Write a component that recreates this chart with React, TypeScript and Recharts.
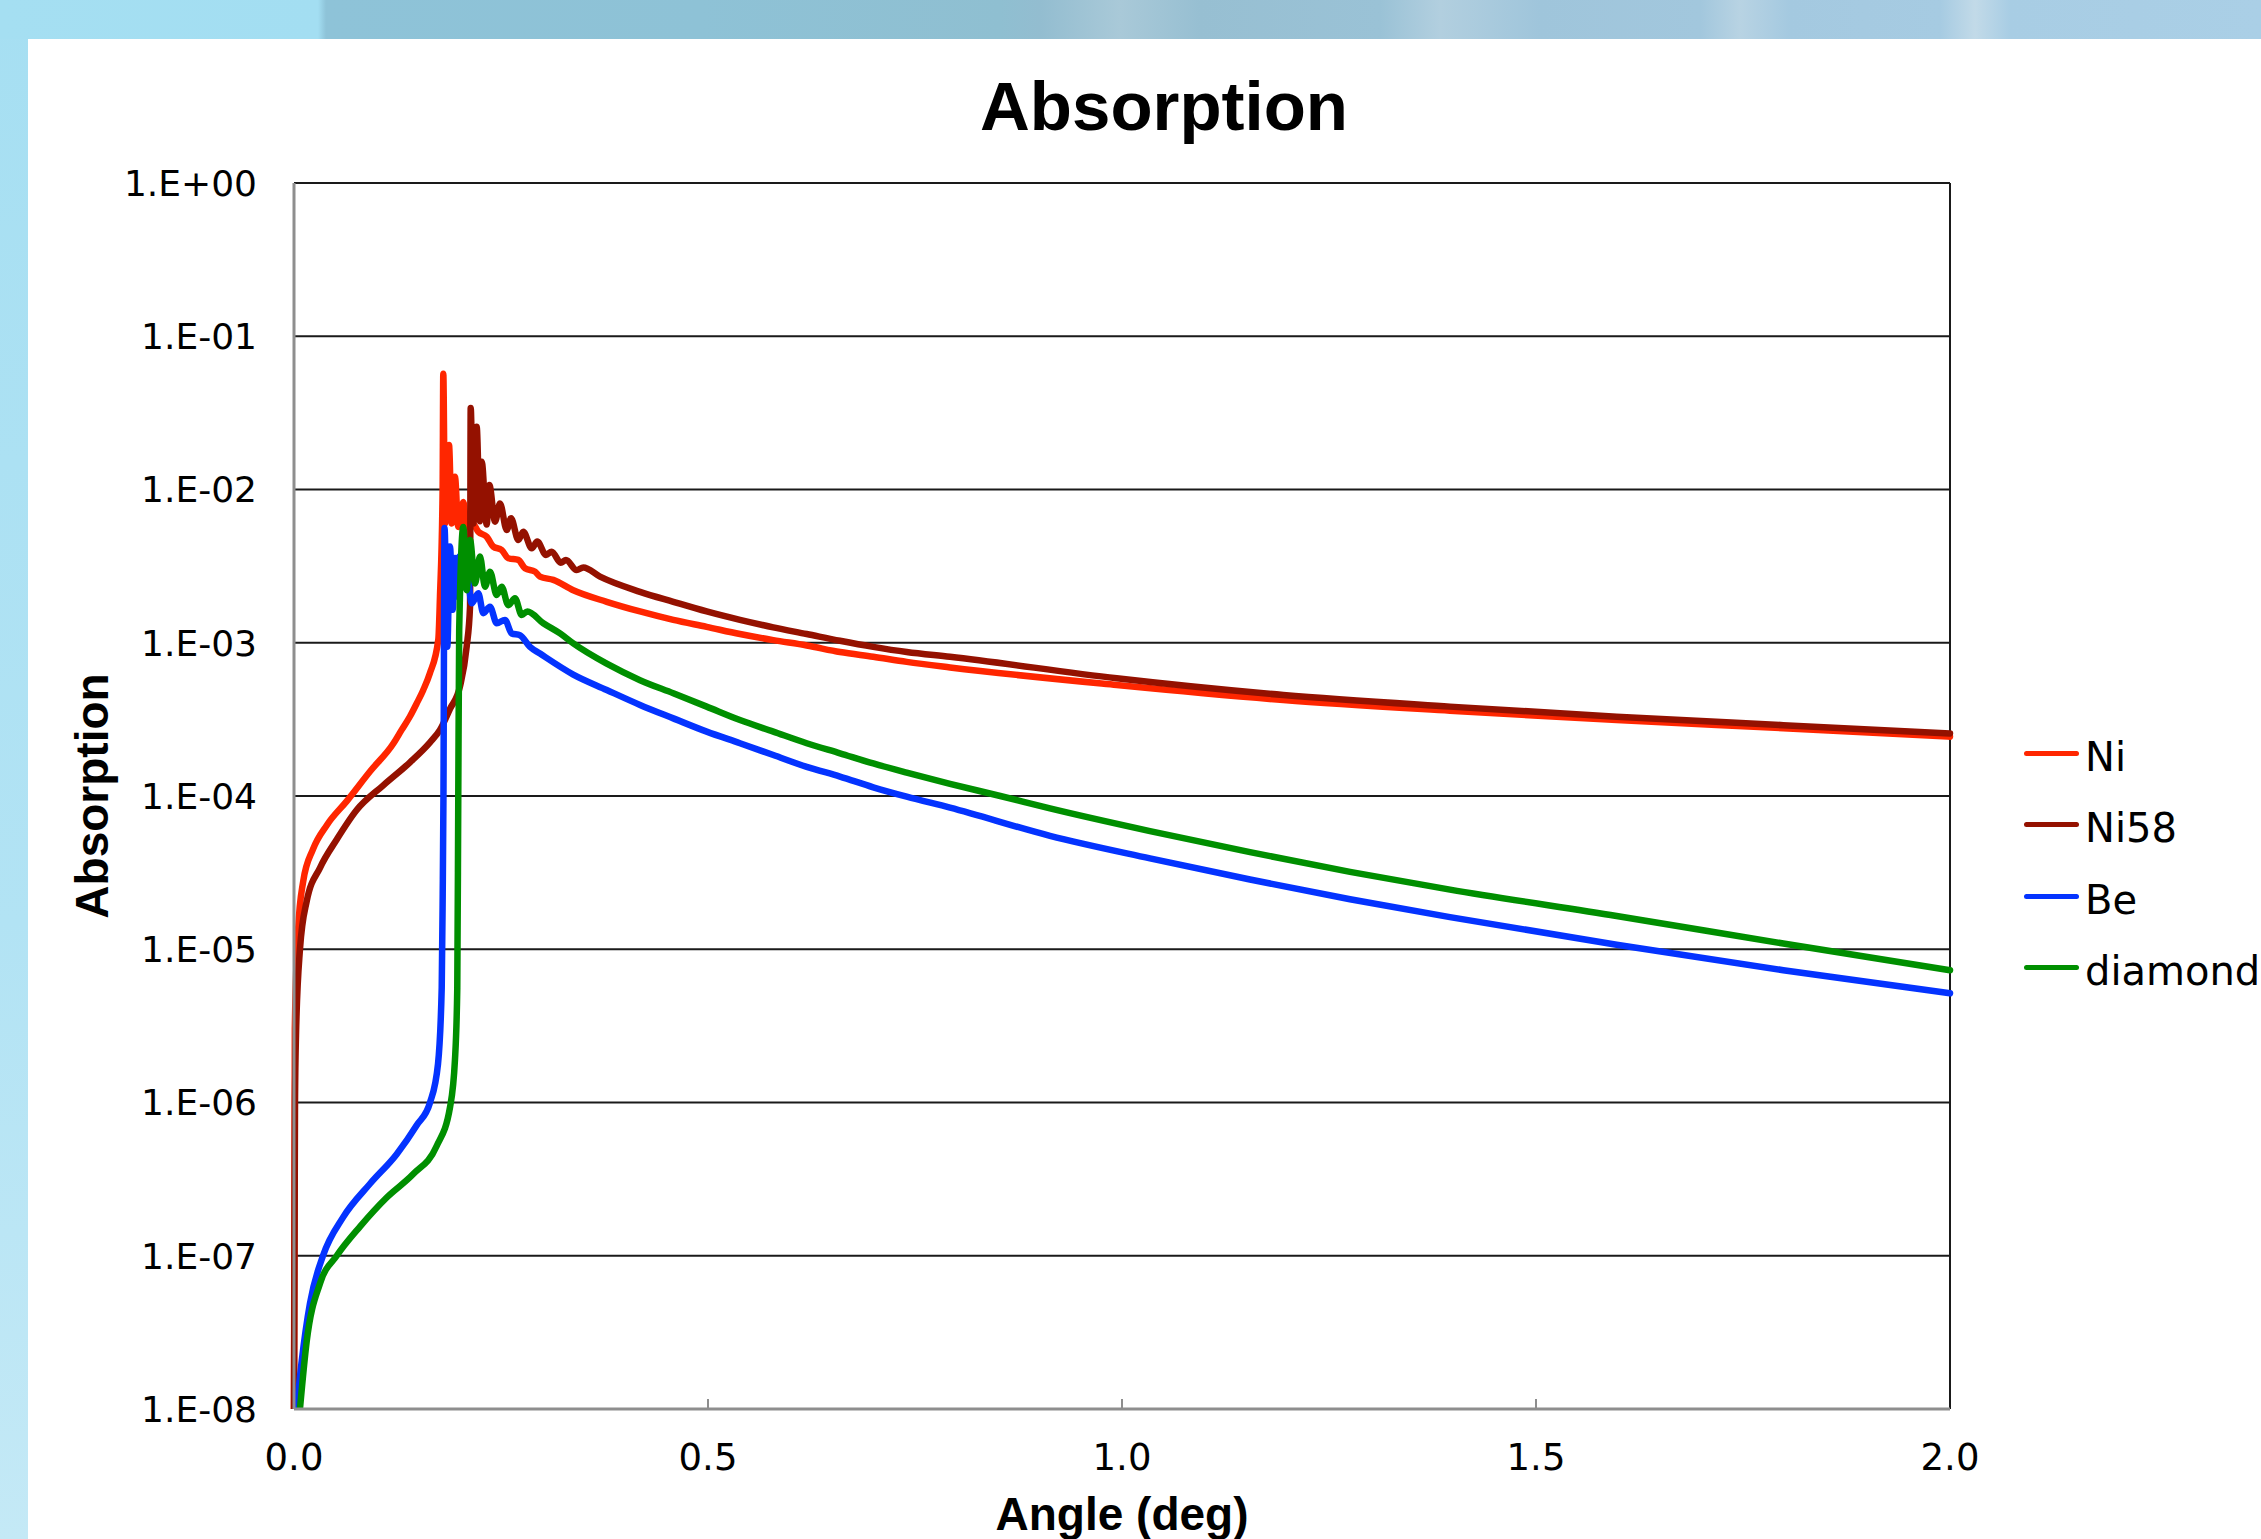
import React from 'react';
import { LineChart, Line, XAxis, YAxis, CartesianGrid, Legend, ReferenceLine } from 'recharts';

// [angle (deg), absorption]
const ni: [number, number][] = [
  [0, 1e-8], [0.001, 3e-6], [0.005, 1.35e-5], [0.011, 2.75e-5], [0.023, 4.5e-5],
  [0.04, 6.5e-5], [0.064, 9.3e-5], [0.092, 1.45e-4], [0.12, 2.2e-4], [0.13, 2.7e-4],
  [0.14, 3.3e-4], [0.148, 4.0e-4], [0.156, 4.9e-4], [0.164, 6.3e-4], [0.1743, 1.05e-3],
  [0.1763, 2.0e-3], [0.1795, 1.0e-2], [0.1803, 5.7e-2], [0.1824, 6.0e-3], [0.1872, 1.95e-2],
  [0.1905, 6.0e-3], [0.1944, 1.21e-2], [0.1984, 5.7e-3], [0.2045, 8.3e-3], [0.2085, 5.7e-3],
  [0.215, 6.1e-3], [0.2226, 5.3e-3], [0.2327, 4.92e-3], [0.2407, 4.24e-3], [0.2508, 4.03e-3],
  [0.2588, 3.56e-3], [0.2709, 3.47e-3], [0.279, 3.06e-3], [0.2911, 2.91e-3], [0.2971, 2.7e-3],
  [0.3132, 2.57e-3], [0.3373, 2.2e-3], [0.3777, 1.85e-3], [0.4179, 1.6e-3], [0.4581, 1.41e-3],
  [0.4984, 1.27e-3], [0.5386, 1.14e-3], [0.5789, 1.04e-3], [0.6192, 9.6e-4], [0.6594, 8.7e-4],
  [0.6996, 8.1e-4], [0.74, 7.5e-4], [0.7923, 6.9e-4], [0.9936, 5.3e-4], [1.1948, 4.23e-4],
  [1.3961, 3.6e-4], [1.5974, 3.13e-4], [1.7987, 2.77e-4], [2.0, 2.44e-4],
];

const ni58: [number, number][] = [
  [0, 1e-8], [0.0012, 1e-6], [0.0024, 2.75e-6], [0.0072, 1.0e-5], [0.0153, 2.05e-5],
  [0.0314, 3.4e-5], [0.0516, 5.2e-5], [0.0757, 8.1e-5], [0.1075, 1.17e-4], [0.1401, 1.66e-4],
  [0.1643, 2.24e-4], [0.1763, 2.7e-4], [0.1884, 3.7e-4], [0.2005, 5.2e-4], [0.2085, 9.4e-4],
  [0.2126, 1.72e-3], [0.2134, 3.4e-2], [0.2166, 6.0e-3], [0.2206, 2.57e-2], [0.2246, 6.2e-3],
  [0.2267, 1.52e-2], [0.2327, 5.9e-3], [0.2359, 1.07e-2], [0.2428, 6.17e-3], [0.2488, 8.1e-3],
  [0.2569, 5.44e-3], [0.2621, 6.5e-3], [0.2709, 4.68e-3], [0.2769, 5.3e-3], [0.2871, 4.13e-3],
  [0.2938, 4.57e-3], [0.3043, 3.74e-3], [0.3112, 3.93e-3], [0.3221, 3.33e-3], [0.3285, 3.47e-3],
  [0.3414, 2.98e-3], [0.3494, 3.1e-3], [0.3696, 2.7e-3], [0.4179, 2.15e-3], [0.4581, 1.85e-3],
  [0.4984, 1.6e-3], [0.5386, 1.41e-3], [0.5789, 1.26e-3], [0.6192, 1.14e-3], [0.6594, 1.03e-3],
  [0.6996, 9.4e-4], [0.74, 8.7e-4], [0.7923, 8.1e-4], [0.9936, 5.86e-4], [1.1948, 4.56e-4],
  [1.3961, 3.83e-4], [1.5974, 3.29e-4], [1.7987, 2.9e-4], [2.0, 2.56e-4],
];

const be: [number, number][] = [
  [0.0033, 1e-8], [0.0093, 2.05e-8], [0.0193, 4.9e-8], [0.035, 1e-7], [0.0592, 1.78e-7],
  [0.0918, 2.95e-7], [0.124, 4.6e-7], [0.1482, 7.1e-7], [0.1643, 1e-6], [0.1739, 1.78e-6],
  [0.1784, 5.6e-6], [0.1796, 2.3e-5], [0.1805, 1e-4], [0.1818, 5.6e-3], [0.1851, 9.4e-4],
  [0.1884, 4.24e-3], [0.1917, 1.64e-3], [0.1944, 3.57e-3], [0.1965, 2.0e-3], [0.1996, 3.65e-3],
  [0.2045, 2.44e-3], [0.2085, 2.98e-3], [0.2146, 1.81e-3], [0.2226, 2.1e-3], [0.2286, 1.56e-3],
  [0.2367, 1.72e-3], [0.2448, 1.34e-3], [0.2548, 1.41e-3], [0.2629, 1.15e-3], [0.2729, 1.12e-3],
  [0.285, 9.4e-4], [0.2971, 8.5e-4], [0.3373, 6.2e-4], [0.3777, 4.92e-4], [0.4179, 3.93e-4],
  [0.4581, 3.21e-4], [0.4984, 2.63e-4], [0.5386, 2.21e-4], [0.5789, 1.85e-4], [0.6192, 1.55e-4],
  [0.6594, 1.34e-4], [0.6996, 1.14e-4], [0.74, 9.9e-5], [0.7923, 8.4e-5], [0.913, 5.5e-5],
  [1.0338, 3.92e-5], [1.1546, 2.85e-5], [1.2754, 2.12e-5], [1.3961, 1.62e-5], [1.5974, 1.07e-5],
  [1.7987, 7.3e-6], [2.0, 5.16e-6],
];

const diamond: [number, number][] = [
  [0.0072, 1e-8], [0.0153, 2.75e-8], [0.0314, 6.6e-8], [0.0516, 1e-7], [0.0797, 1.55e-7],
  [0.112, 2.4e-7], [0.1437, 3.4e-7], [0.1723, 5.2e-7], [0.1884, 9.3e-7], [0.1944, 1.9e-6],
  [0.1972, 5.6e-6], [0.1984, 1e-4], [0.1995, 1.2e-3], [0.2045, 5.7e-3], [0.2085, 2.2e-3],
  [0.2126, 4.68e-3], [0.2186, 2.44e-3], [0.2246, 3.65e-3], [0.2307, 2.32e-3], [0.2367, 2.91e-3],
  [0.2448, 2.05e-3], [0.2508, 2.32e-3], [0.2588, 1.76e-3], [0.2669, 1.95e-3], [0.275, 1.52e-3],
  [0.2818, 1.6e-3], [0.3011, 1.34e-3], [0.3213, 1.15e-3], [0.3373, 9.9e-4], [0.3777, 7.3e-4],
  [0.4179, 5.7e-4], [0.4581, 4.68e-4], [0.4984, 3.83e-4], [0.5386, 3.13e-4], [0.5789, 2.63e-4],
  [0.6192, 2.21e-4], [0.6594, 1.9e-4], [0.6996, 1.63e-4], [0.74, 1.42e-4], [0.7923, 1.2e-4],
  [0.853, 1.0e-4], [0.913, 8.3e-5], [1.0338, 5.9e-5], [1.1546, 4.3e-5], [1.2754, 3.2e-5],
  [1.3961, 2.45e-5], [1.5974, 1.65e-5], [1.7987, 1.09e-5], [2.0, 7.3e-6],
];

const seriesNames = ['Ni', 'Ni58', 'Be', 'diamond'];
const seriesColors = ['#ff2600', '#941100', '#0433ff', '#008f00'];
const seriesPoints = [ni, ni58, be, diamond];

const xTicks = [0, 0.5, 1, 1.5, 2];
const yTicks = [1e-8, 1e-7, 1e-6, 1e-5, 1e-4, 1e-3, 1e-2, 1e-1, 1];

const W = 2261;
const H = 1539;

const toRows = (pts: [number, number][]) => pts.map(([x, y]) => ({ x, y }));

function fmtExp(v: number) {
  const e = Math.round(Math.log10(v));
  return `1.E${e < 0 ? '-' : '+'}${String(Math.abs(e)).padStart(2, '0')}`;
}

// bottom axis tick: label below, short tick mark pointing up into the plot
const XTick = (props: any) => {
  const { x, y, payload } = props;
  const v = payload.value as number;
  const axisY = y - 35;
  return (
    <g>
      {v > 0 && v < 2 && (
        <line x1={x} x2={x} y1={axisY} y2={axisY - 10} stroke="#8e8e8e" strokeWidth={2} />
      )}
      <text x={x} y={y} dy="0.71em" textAnchor="middle" fontFamily="DejaVu Sans" fontSize={37} fill="#000">
        {v.toFixed(1)}
      </text>
    </g>
  );
};

// keep the series order (recharts sorts legend items by name)
const LegendBox = () => (
  <div style={{ fontFamily: 'DejaVu Sans', fontSize: 40, color: '#000' }}>
    {seriesNames.map((name, i) => (
      <div key={name} style={{ display: 'flex', alignItems: 'center', height: 71.3, whiteSpace: 'nowrap' }}>
        <div
          style={{
            width: 55,
            height: 5,
            borderRadius: 3,
            background: seriesColors[i],
            transform: 'translateY(-4px)',
            marginRight: 6,
            flex: 'none',
          }}
        />
        <span style={{ lineHeight: '71.3px' }}>{name}</span>
      </div>
    ))}
  </div>
);

export default function App() {
  return (
    <div
      style={{
        position: 'absolute',
        left: 0,
        top: 0,
        width: W,
        height: H,
        overflow: 'hidden',
        background: 'linear-gradient(180deg, #a6dff2 0%, #b2e3f4 60%, #c4e9f6 100%)',
      }}
    >
      {/* header strip of the slide behind the chart */}
      <div
        style={{
          position: 'absolute',
          left: 0,
          top: 0,
          width: W,
          height: 39,
          background:
            'linear-gradient(90deg, #a5dff2 0px, #a3def2 318px, #8ec3d8 326px, #8ec2d6 700px, #8fbfd1 1000px, #93bdd0 1040px, #a9c9d8 1120px, #97bfd2 1200px, #9ac2d6 1380px, #b2cfdf 1440px, #9fc5db 1540px, #a2c7dd 1700px, #b8d3e3 1740px, #a4c9e0 1790px, #a6cbe2 1940px, #c2dae8 1975px, #a8cde4 2010px, #aacfe6 2261px)',
        }}
      />
      <div style={{ position: 'absolute', left: 28, top: 39, right: 0, bottom: 0, background: '#fff' }} />

      <div
        style={{
          position: 'absolute',
          left: 1164,
          top: 72,
          transform: 'translateX(-50%)',
          fontFamily: 'Liberation Sans',
          fontWeight: 700,
          fontSize: 69,
          lineHeight: 1,
          whiteSpace: 'nowrap',
          color: '#000',
        }}
      >
        Absorption
      </div>

      <div
        style={{
          position: 'absolute',
          left: 92,
          top: 796,
          transform: 'translate(-50%, -50%) rotate(-90deg)',
          fontFamily: 'Liberation Sans',
          fontWeight: 700,
          fontSize: 46,
          lineHeight: 1,
          whiteSpace: 'nowrap',
          color: '#000',
        }}
      >
        Absorption
      </div>

      <div style={{ position: 'absolute', left: 0, top: 0 }}>
        <LineChart width={W} height={H} margin={{ top: 183, right: 311, bottom: 0, left: 0 }}>
          <CartesianGrid horizontal vertical={false} stroke="#1a1a1a" strokeWidth={2} />
          <XAxis
            type="number"
            dataKey="x"
            domain={[0, 2]}
            ticks={xTicks}
            interval={0}
            height={130}
            tickSize={0}
            tickMargin={35}
            tickLine={false}
            tick={<XTick />}
            axisLine={{ stroke: '#8e8e8e', strokeWidth: 3 }}
            label={{
              value: 'Angle (deg)',
              position: 'insideBottom',
              offset: 9,
              fill: '#000',
              fontSize: 46,
              fontWeight: 700,
              fontFamily: 'Liberation Sans',
            }}
          />
          <YAxis
            type="number"
            scale="log"
            domain={[1e-8, 1]}
            allowDataOverflow
            ticks={yTicks}
            interval={0}
            width={294}
            tickSize={0}
            tickMargin={37}
            tickLine={false}
            tickFormatter={fmtExp}
            tick={{ fontFamily: 'DejaVu Sans', fontSize: 36, fill: '#000' }}
            axisLine={{ stroke: '#8e8e8e', strokeWidth: 3 }}
          />
          <ReferenceLine x={2} stroke="#1a1a1a" strokeWidth={2} />
          {seriesNames.map((name, i) => (
            <Line
              key={name}
              name={name}
              data={toRows(seriesPoints[i])}
              dataKey="y"
              type="monotone"
              stroke={seriesColors[i]}
              strokeWidth={6.5}
              strokeLinejoin="round"
              strokeLinecap="round"
              dot={false}
              activeDot={false}
              isAnimationActive={false}
            />
          ))}
          <Legend
            layout="horizontal"
            verticalAlign="middle"
            align="center"
            content={<LegendBox />}
            wrapperStyle={{ left: 2024, top: 722, width: 237, height: 290 }}
          />
        </LineChart>
      </div>
    </div>
  );
}
